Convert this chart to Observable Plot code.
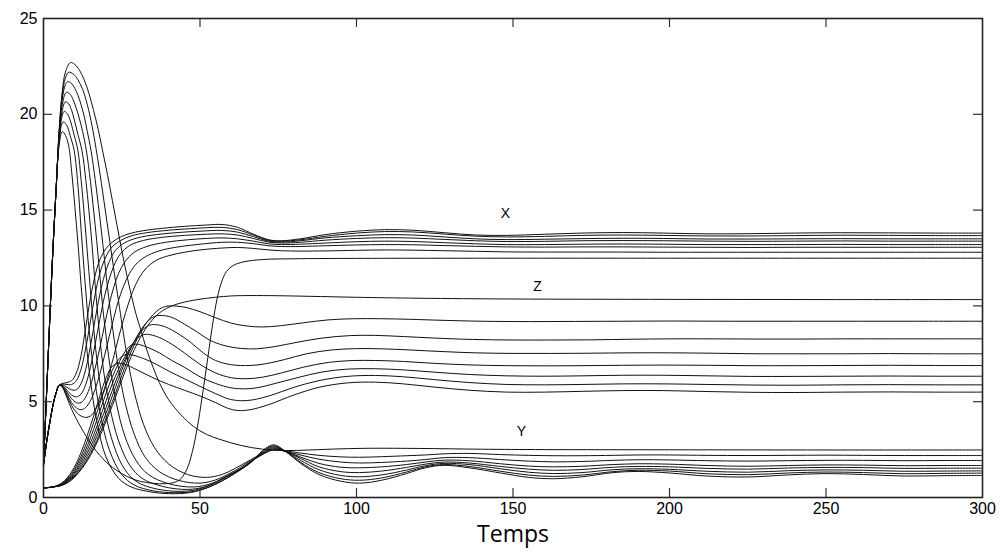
<!DOCTYPE html>
<html><head><meta charset="utf-8">
<script src="https://cdn.jsdelivr.net/npm/d3@7"></script>
<script src="https://cdn.jsdelivr.net/npm/@observablehq/plot@0.6"></script>
<style>body{margin:0;background:#fff} #chart{width:1007px;height:557px}</style>
</head><body><div id="chart"></div><script>
// ---- Y family (large early peak) ----
const Y0 = [[0,1.7],[1,5.5],[2,9.3],[3,12.9],[4,16.0],[5,18.4],[6,19.1],[7,18.9],[8,18.4],[9,17.0],[10,15.2],[11,13.3],[12,11.1],[13,9.2],[14,7.5],[15,6.1],[17,4.0],[20,2.1],[24,1.0],[28,0.55],[34,0.3],[40,0.2],[47,0.26],[53,0.55],[58,0.95],[62,1.35],[66,1.8],[70,2.45],[73.5,2.75],[77,2.45],[82,1.8],[88,1.2],[95,0.85],[101,0.75],[108,0.9],[116,1.25],[122,1.55],[128,1.68],[136,1.55],[146,1.28],[155,1.05],[163,0.98],[172,1.08],[182,1.3],[190,1.36],[200,1.28],[212,1.12],[225,1.07],[238,1.18],[250,1.25],[262,1.2],[275,1.12],[288,1.14],[300,1.15]];
const Y1 = [[0,1.7],[1,5.5],[2,9.3],[3,12.9],[4,16.0],[5,18.6],[6,19.55],[6.5,19.6],[7.5,19.4],[8.5,18.9],[9.8,18.1],[11,16.3],[12,14.0],[13,11.8],[14,9.8],[14.6,8.7],[16,6.6],[18,4.5],[21,2.5],[25,1.2],[29,0.65],[35,0.35],[42,0.25],[49,0.35],[55,0.7],[60,1.15],[63,1.45],[66,1.8],[70,2.4],[73.5,2.7],[77,2.43],[82,1.85],[88,1.3],[95,0.98],[101,0.9],[108,1.02],[116,1.33],[122,1.6],[128,1.72],[136,1.62],[146,1.37],[155,1.17],[163,1.1],[172,1.17],[182,1.35],[190,1.42],[200,1.38],[212,1.24],[225,1.19],[238,1.28],[250,1.33],[262,1.3],[275,1.24],[288,1.26],[300,1.27]];
const Y2 = [[0,1.7],[1,5.5],[2,9.3],[3,12.9],[4,16.0],[5,18.7],[6,19.95],[6.6,20.15],[7.5,20.05],[8.5,19.7],[9.5,19.1],[11,18.1],[12,16.6],[13,14.8],[14,12.8],[15,10.8],[16.1,8.7],[17.5,6.6],[19.5,4.6],[22.5,2.7],[26,1.45],[30,0.8],[36,0.45],[44,0.32],[50,0.45],[56,0.85],[61,1.3],[66,1.8],[70,2.35],[73.5,2.65],[77,2.43],[82,1.95],[88,1.45],[95,1.15],[101,1.08],[108,1.18],[116,1.43],[122,1.66],[128,1.78],[136,1.72],[146,1.5],[155,1.32],[163,1.25],[172,1.3],[182,1.45],[190,1.5],[200,1.47],[212,1.37],[225,1.32],[238,1.4],[250,1.44],[262,1.42],[275,1.37],[288,1.38],[300,1.39]];
const Y3 = [[0,1.7],[1,5.5],[2,9.3],[3,12.9],[4,16.0],[5,18.8],[6,20.2],[7,20.65],[8,20.55],[9,20.2],[10,19.6],[11,18.95],[12.3,18.1],[13.5,16.6],[14.5,15.0],[15.5,13.2],[16.5,11.1],[17.8,8.7],[19.2,6.6],[21.2,4.7],[24,2.95],[27.5,1.7],[31.5,1.0],[38,0.58],[46,0.42],[52,0.58],[57,0.98],[62,1.4],[66,1.82],[70,2.3],[73.5,2.6],[77,2.42],[82,2.05],[88,1.6],[95,1.35],[101,1.3],[108,1.38],[116,1.57],[122,1.74],[128,1.85],[136,1.8],[146,1.62],[155,1.48],[163,1.42],[172,1.46],[182,1.58],[190,1.62],[200,1.6],[212,1.52],[225,1.48],[238,1.54],[250,1.57],[262,1.56],[275,1.52],[288,1.53],[300,1.53]];
const Y4 = [[0,1.7],[1,5.5],[2,9.3],[3,12.9],[4,16.0],[5,18.9],[6,20.5],[7.3,21.15],[8.5,21.05],[9.5,20.75],[10.5,20.3],[11.5,19.75],[12.5,19.1],[13.7,18.1],[15,16.5],[16,15.0],[17,13.4],[18,11.6],[19,9.8],[19.8,8.7],[21.3,6.8],[23.3,4.9],[26,3.2],[29.5,1.95],[33.5,1.2],[40,0.72],[48,0.55],[54,0.75],[59,1.15],[63,1.5],[66,1.85],[70,2.25],[73.5,2.55],[77,2.42],[82,2.12],[88,1.78],[95,1.58],[101,1.55],[108,1.6],[116,1.72],[122,1.85],[128,1.95],[136,1.92],[146,1.76],[155,1.64],[163,1.6],[172,1.63],[182,1.72],[190,1.76],[200,1.74],[212,1.67],[225,1.63],[238,1.67],[250,1.7],[262,1.69],[275,1.66],[288,1.67],[300,1.67]];
const Y5 = [[0,1.7],[1,5.5],[2,9.3],[3,12.9],[4,16.0],[5,19.0],[6,20.8],[7,21.55],[7.7,21.7],[9,21.6],[10,21.35],[11,21.0],[12,20.5],[13,19.9],[14,19.1],[15.2,18.1],[16.5,16.6],[17.5,15.3],[18.5,13.9],[19.5,12.4],[20.5,10.9],[22.2,8.7],[24,6.7],[26,5.0],[29,3.3],[32.5,2.1],[37,1.35],[43,0.9],[50,0.75],[55,0.92],[60,1.3],[63,1.58],[66,1.9],[70,2.25],[73.5,2.5],[77,2.42],[82,2.22],[88,2.0],[95,1.85],[101,1.8],[108,1.83],[116,1.9],[122,1.98],[128,2.08],[136,2.08],[146,1.98],[155,1.9],[163,1.86],[172,1.88],[182,1.94],[190,1.97],[200,1.96],[212,1.92],[225,1.9],[238,1.92],[250,1.94],[262,1.94],[275,1.92],[288,1.93],[300,1.93]];
const Y6 = [[0,1.7],[1,5.5],[2,9.3],[3,12.9],[4,16.0],[5,19.1],[6,21.0],[7,21.9],[8.1,22.2],[9.5,22.1],[11,21.8],[12.5,21.3],[14,20.5],[15.5,19.4],[16.9,18.1],[18.5,16.4],[20,14.7],[21.5,13.0],[23,11.3],[24.3,9.9],[25.4,8.7],[27,7.1],[29,5.5],[32,3.8],[35.5,2.6],[40,1.75],[46,1.2],[52,1.05],[57,1.2],[61,1.5],[66,1.95],[70,2.3],[73.5,2.48],[77,2.44],[82,2.32],[88,2.2],[95,2.12],[101,2.1],[108,2.13],[116,2.18],[122,2.22],[128,2.28],[136,2.3],[146,2.24],[155,2.2],[163,2.18],[172,2.18],[182,2.2],[190,2.22],[200,2.22],[212,2.2],[225,2.19],[238,2.2],[250,2.21],[262,2.2],[275,2.19],[288,2.19],[300,2.19]];
const YS = [[0,1.7],[1,5.5],[2,9.3],[3,12.9],[4,16.0],[5,19.2],[6,21.2],[7,22.2],[8.6,22.7],[10,22.6],[11.5,22.3],[13,21.8],[14.5,21.1],[16,20.2],[17.5,19.2],[19,18.0],[20.5,16.8],[22,15.5],[23.5,14.2],[25,12.9],[26.5,11.7],[28,10.6],[29.5,9.6],[31,8.8],[33,7.7],[35,6.8],[37,6.0],[40,5.1],[44,4.3],[48,3.7],[52,3.3],[57,3.0],[63,2.72],[70,2.52],[77,2.45],[85,2.48],[95,2.54],[105,2.57],[120,2.56],[140,2.52],[160,2.5],[200,2.49],[250,2.48],[300,2.48]];

// ---- X family ----
const X0 = [[0,1.7],[1,2.9],[2,3.9],[3,4.8],[4,5.45],[5,5.85],[6,5.95],[7.5,6.0],[9,6.1],[10.5,6.5],[12,7.4],[13.5,8.9],[15,10.4],[16.5,11.6],[18,12.4],[20,13.0],[23,13.45],[27,13.75],[32,13.93],[38,14.05],[45,14.15],[52,14.22],[57,14.25],[62,14.1],[67,13.75],[72,13.45],[76,13.4],[82,13.5],[90,13.72],[100,13.9],[109,13.98],[118,13.95],[128,13.82],[138,13.7],[148,13.68],[160,13.74],[172,13.8],[185,13.83],[198,13.8],[212,13.76],[226,13.77],[240,13.8],[255,13.82],[270,13.81],[285,13.8],[300,13.8]];
const X1 = [[0,1.7],[1,2.9],[2,3.9],[3,4.8],[4,5.45],[5,5.85],[6,5.92],[7.5,5.9],[9,5.9],[10.5,6.1],[12,6.7],[13.5,7.8],[15,9.2],[16.5,10.6],[18,11.7],[19.5,12.4],[21.5,13.0],[24.5,13.4],[28,13.65],[33,13.82],[40,13.95],[47,14.03],[52,14.08],[57,14.1],[62,13.98],[67,13.7],[72,13.42],[76,13.37],[82,13.45],[90,13.63],[100,13.8],[109,13.88],[118,13.86],[128,13.75],[138,13.64],[148,13.6],[160,13.63],[172,13.68],[185,13.7],[198,13.68],[212,13.65],[226,13.65],[240,13.67],[255,13.69],[270,13.68],[285,13.67],[300,13.67]];
const X2 = [[0,1.7],[1,2.9],[2,3.9],[3,4.8],[4,5.45],[5,5.85],[6,5.88],[7.5,5.75],[9,5.62],[10.5,5.62],[12,5.95],[13.5,6.7],[15,7.9],[16.5,9.3],[18,10.6],[19.5,11.6],[21,12.3],[23,12.9],[26,13.3],[30,13.55],[36,13.72],[43,13.83],[50,13.9],[57,13.94],[62,13.85],[67,13.62],[72,13.38],[76,13.33],[82,13.4],[90,13.55],[100,13.66],[109,13.72],[118,13.7],[128,13.6],[138,13.5],[148,13.46],[160,13.48],[172,13.51],[185,13.53],[198,13.52],[212,13.49],[226,13.49],[240,13.5],[255,13.51],[270,13.5],[285,13.5],[300,13.5]];
const X3 = [[0,1.7],[1,2.9],[2,3.9],[3,4.8],[4,5.45],[5,5.85],[6,5.85],[7.5,5.6],[9,5.35],[10.5,5.25],[12,5.4],[13.5,5.9],[15,6.8],[16.5,8.0],[18,9.3],[19.5,10.5],[21,11.4],[22.5,12.1],[24.5,12.7],[27.5,13.15],[32,13.42],[38,13.58],[45,13.68],[52,13.74],[57,13.76],[62,13.7],[67,13.52],[72,13.33],[76,13.28],[82,13.32],[90,13.43],[100,13.52],[109,13.56],[118,13.54],[128,13.47],[138,13.4],[148,13.36],[160,13.37],[172,13.4],[185,13.41],[198,13.4],[212,13.38],[226,13.37],[240,13.38],[255,13.39],[270,13.38],[285,13.38],[300,13.38]];
const X4 = [[0,1.7],[1,2.9],[2,3.9],[3,4.8],[4,5.45],[5,5.85],[6,5.82],[7.5,5.5],[9,5.15],[10.5,4.95],[12,4.95],[13.5,5.25],[15,5.85],[16.5,6.75],[18,7.8],[19.5,9.0],[21,10.1],[22.5,11.0],[24,11.7],[26,12.3],[29,12.8],[33,13.1],[39,13.32],[46,13.45],[52,13.52],[57,13.55],[62,13.5],[67,13.38],[72,13.24],[76,13.2],[82,13.22],[90,13.28],[100,13.35],[109,13.38],[118,13.36],[128,13.3],[138,13.24],[148,13.2],[160,13.2],[172,13.22],[185,13.23],[198,13.22],[212,13.2],[226,13.2],[240,13.2],[255,13.21],[270,13.2],[285,13.2],[300,13.2]];
const X5 = [[0,1.7],[1,2.9],[2,3.9],[3,4.8],[4,5.45],[5,5.85],[6,5.8],[7.5,5.4],[9,4.95],[10.5,4.68],[12,4.58],[13.5,4.7],[15,5.05],[16.5,5.65],[18,6.45],[19.5,7.4],[21,8.4],[22.5,9.4],[24,10.3],[25.5,11.0],[27.5,11.7],[30,12.25],[33.5,12.65],[38,12.92],[44,13.1],[50,13.22],[57,13.32],[62,13.32],[67,13.25],[72,13.14],[76,13.1],[82,13.1],[90,13.14],[100,13.18],[109,13.2],[118,13.19],[128,13.15],[138,13.11],[148,13.08],[160,13.07],[172,13.08],[185,13.08],[198,13.07],[212,13.06],[226,13.05],[240,13.06],[255,13.06],[270,13.06],[285,13.06],[300,13.06]];
const X6 = [[0,1.7],[1,2.9],[2,3.9],[3,4.8],[4,5.45],[5,5.85],[6,5.78],[7.5,5.3],[9,4.8],[10.5,4.45],[12,4.25],[13.5,4.18],[15,4.25],[16.5,4.55],[18,5.05],[19.5,5.7],[21,6.5],[22.5,7.4],[24,8.35],[25.5,9.25],[27,10.05],[28.5,10.75],[30.5,11.45],[33,12.0],[36,12.38],[40,12.62],[45,12.8],[50,12.92],[57,13.02],[62,13.05],[67,13.0],[72,12.92],[76,12.88],[82,12.86],[90,12.87],[100,12.9],[109,12.92],[118,12.91],[128,12.88],[138,12.85],[148,12.82],[160,12.81],[172,12.81],[185,12.81],[198,12.8],[212,12.8],[240,12.8],[270,12.8],[300,12.8]];
const XS = [[0,1.7],[1,2.9],[2,3.9],[3,4.8],[4,5.45],[5,5.85],[6,5.75],[7.5,5.2],[9,4.6],[10.5,4.1],[12,3.65],[14,3.1],[16,2.6],[18,2.2],[20,1.85],[22,1.58],[25,1.25],[28,1.0],[31,0.84],[35,0.74],[39,0.72],[42,0.8],[44,1.0],[46,1.55],[48,2.7],[49.5,4.0],[51,5.6],[52.5,7.3],[54,9.0],[55.5,10.4],[57,11.3],[58.5,11.8],[60.5,12.1],[64,12.3],[70,12.42],[80,12.46],[100,12.48],[150,12.49],[200,12.49],[300,12.49]];

// ---- Z family ----
const Z0 = [[0,0.5],[3,0.55],[6,0.78],[9,1.35],[12,2.35],[14,3.25],[16,4.25],[18,5.3],[20,6.25],[22,6.85],[24,7.0],[26,6.95],[30,6.65],[35,6.25],[40,5.9],[45,5.6],[50,5.3],[55,4.95],[59,4.65],[62,4.54],[66,4.58],[72,4.85],[80,5.35],[88,5.75],[97,5.98],[106,6.02],[115,5.93],[125,5.76],[136,5.6],[148,5.5],[160,5.5],[172,5.54],[185,5.58],[198,5.58],[212,5.53],[226,5.49],[240,5.48],[255,5.5],[270,5.51],[285,5.5],[300,5.5]];
const Z1 = [[0,0.5],[3,0.55],[6,0.74],[9,1.25],[12,2.15],[14,2.95],[16,3.9],[18,4.9],[20,5.85],[22,6.65],[24,7.2],[26,7.45],[28,7.45],[32,7.25],[36,6.95],[40,6.6],[45,6.2],[50,5.8],[55,5.42],[59,5.15],[63,5.05],[67,5.1],[73,5.35],[80,5.75],[88,6.1],[97,6.32],[106,6.37],[115,6.3],[125,6.15],[136,6.0],[148,5.9],[160,5.88],[172,5.9],[185,5.93],[198,5.93],[212,5.9],[226,5.87],[240,5.86],[255,5.88],[270,5.89],[285,5.88],[300,5.88]];
const Z2 = [[0,0.5],[3,0.55],[6,0.72],[9,1.17],[12,2.0],[14,2.7],[16,3.55],[18,4.5],[20,5.45],[22,6.3],[24,7.0],[26,7.6],[28,7.95],[30,8.0],[33,7.85],[37,7.55],[41,7.15],[45,6.8],[50,6.3],[55,5.95],[60,5.72],[64,5.67],[68,5.72],[74,5.95],[81,6.25],[89,6.55],[97,6.7],[106,6.72],[115,6.66],[125,6.54],[136,6.42],[148,6.35],[160,6.33],[172,6.35],[185,6.38],[198,6.38],[212,6.35],[226,6.32],[240,6.32],[255,6.33],[270,6.34],[285,6.33],[300,6.33]];
const Z3 = [[0,0.5],[3,0.55],[6,0.7],[9,1.1],[12,1.85],[14,2.5],[16,3.25],[18,4.15],[20,5.05],[22,5.95],[24,6.7],[26,7.35],[28,7.9],[30,8.3],[32,8.5],[34,8.5],[37,8.35],[41,8.0],[45,7.55],[50,6.95],[55,6.5],[60,6.25],[65,6.2],[70,6.28],[76,6.5],[83,6.8],[91,7.05],[99,7.15],[106,7.15],[115,7.1],[125,7.0],[136,6.92],[148,6.88],[160,6.87],[172,6.88],[185,6.9],[198,6.91],[212,6.9],[226,6.88],[240,6.88],[255,6.89],[270,6.9],[285,6.89],[300,6.89]];
const Z4 = [[0,0.5],[3,0.55],[6,0.68],[9,1.05],[12,1.72],[14,2.32],[16,3.0],[18,3.85],[20,4.7],[22,5.6],[24,6.45],[26,7.2],[28,7.85],[30,8.4],[32,8.8],[34,9.0],[36,9.02],[39,8.9],[43,8.55],[47,8.1],[51,7.55],[55,7.15],[60,6.93],[66,6.89],[71,6.98],[77,7.2],[84,7.5],[92,7.7],[100,7.77],[108,7.76],[117,7.7],[127,7.62],[138,7.55],[150,7.52],[162,7.52],[174,7.53],[187,7.55],[200,7.55],[214,7.53],[228,7.5],[242,7.5],[256,7.5],[270,7.51],[285,7.5],[300,7.5]];
const Z5 = [[0,0.5],[3,0.55],[6,0.66],[9,1.0],[12,1.6],[14,2.15],[16,2.8],[18,3.58],[20,4.4],[22,5.3],[24,6.2],[26,7.05],[28,7.8],[30,8.45],[32,8.95],[34,9.3],[36,9.48],[38,9.5],[41,9.4],[45,9.05],[49,8.65],[53,8.22],[58,7.92],[63,7.78],[68,7.76],[74,7.88],[81,8.1],[89,8.32],[98,8.45],[106,8.46],[115,8.4],[125,8.32],[137,8.25],[150,8.22],[162,8.22],[175,8.23],[188,8.26],[200,8.28],[214,8.28],[228,8.27],[242,8.27],[256,8.28],[270,8.28],[285,8.28],[300,8.28]];
const Z6 = [[0,0.5],[3,0.55],[6,0.65],[9,0.95],[12,1.5],[14,2.0],[16,2.62],[18,3.35],[20,4.15],[22,5.0],[24,5.9],[26,6.8],[28,7.6],[30,8.3],[32,8.9],[34,9.35],[36,9.7],[38,9.92],[40,10.0],[43,9.98],[46,9.9],[50,9.7],[55,9.38],[60,9.1],[65,8.95],[70,8.9],[76,8.97],[83,9.12],[91,9.27],[99,9.33],[108,9.33],[117,9.3],[127,9.25],[140,9.2],[155,9.18],[170,9.19],[185,9.2],[200,9.21],[220,9.2],[240,9.2],[260,9.2],[280,9.2],[300,9.2]];
const ZS = [[0,0.5],[3,0.55],[6,0.64],[9,0.92],[12,1.45],[14,1.92],[16,2.5],[18,3.2],[20,3.98],[22,4.8],[24,5.68],[26,6.55],[28,7.35],[30,8.05],[32,8.65],[34,9.12],[36,9.48],[38,9.75],[41,10.0],[45,10.2],[50,10.35],[55,10.45],[60,10.52],[66,10.54],[75,10.53],[85,10.5],[100,10.45],[120,10.4],[150,10.36],[200,10.34],[250,10.33],[300,10.33]];

const xTicks = [0, 50, 100, 150, 200, 250, 300];
const yTicks = [0, 5, 10, 15, 20, 25];
const curveLabels = [{name: "X", t: 147.6, v: 14.8}, {name: "Z", t: 157.8, v: 11.0}, {name: "Y", t: 152.7, v: 3.45}];
const axisTitle = "Temps";

const series = {Y0, Y1, Y2, Y3, Y4, Y5, Y6, YS, X0, X1, X2, X3, X4, X5, X6, XS, Z0, Z1, Z2, Z3, Z4, Z5, Z6, ZS};
const rows = Object.entries(series).flatMap(([id, pts]) => pts.map(([t, v]) => ({id, t, v})));

const W = 1007, H = 557, mL = 43, mR = 25, mT = 18, mB = 60;
const innerW = W - mL - mR, innerH = H - mT - mB, tk = 9;

const chart = Plot.plot({
  width: W, height: H,
  marginLeft: mL, marginRight: mR, marginTop: mT, marginBottom: mB,
  x: {domain: [0, 300], axis: null},
  y: {domain: [0, 25], axis: null},
  style: {fontFamily: "'Liberation Sans', Arial, sans-serif", background: "#fff", color: "#000"},
  marks: [
    Plot.line(rows, {x: "t", y: "v", z: "id", stroke: "#111", strokeWidth: 1, curve: "catmull-rom"}),
    Plot.tickX(xTicks.slice(1, -1), {x: d => d, insetTop: innerH - tk, stroke: "#333", strokeWidth: 1.2}),
    Plot.tickX(xTicks.slice(1, -1), {x: d => d, insetBottom: innerH - tk, stroke: "#333", strokeWidth: 1.2}),
    Plot.tickY(yTicks.slice(1, -1), {y: d => d, insetRight: innerW - tk, stroke: "#333", strokeWidth: 1.2}),
    Plot.tickY(yTicks.slice(1, -1), {y: d => d, insetLeft: innerW - tk, stroke: "#333", strokeWidth: 1.2}),
    Plot.frame({stroke: "#222", strokeWidth: 1.6}),
    Plot.axisX(xTicks, {tickSize: 0, tickPadding: 5, fontSize: 16, label: null}),
    Plot.axisY(yTicks, {tickSize: 0, tickPadding: 6, fontSize: 16, label: null}),
    Plot.text(curveLabels, {x: "t", y: "v", text: "name", fontSize: 14, fill: "#000"}),
    Plot.text([axisTitle], {frameAnchor: "bottom", dy: 44, fontSize: 23, fontFamily: "'Open Sans', sans-serif", fill: "#000"})
  ]
});
document.getElementById("chart").append(chart);
</script></body></html>
